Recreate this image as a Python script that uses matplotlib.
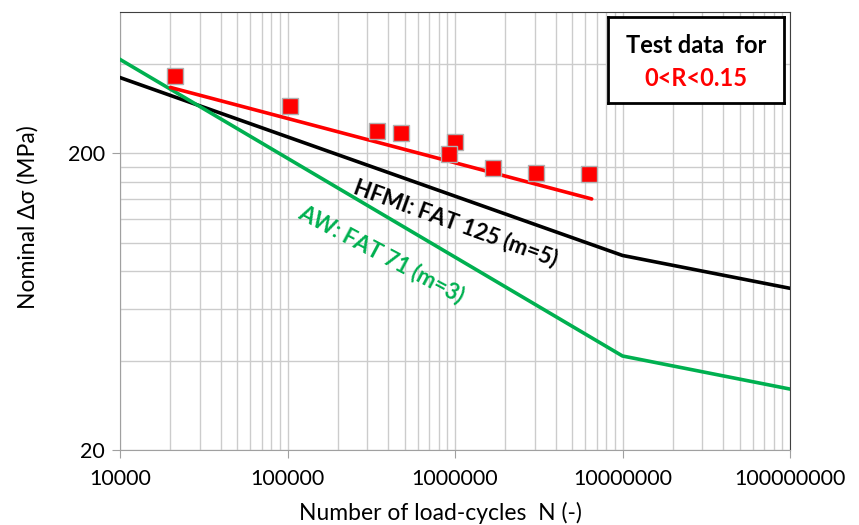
import matplotlib.pyplot as plt
from matplotlib.ticker import FixedLocator, NullFormatter, FuncFormatter

plt.rcParams['font.family'] = ['Lato', 'DejaVu Sans']

# S-N curves (N, nominal stress range)
hfmi_n = [1e4, 1e7, 1e8]
hfmi_s = [360.6, 90.6, 70.2]
aw_n = [1e4, 1e7, 1e8]
aw_s = [415.2, 41.5, 32.1]

# fitted line through test data
fit_n = [2.0e4, 6.55e6]
fit_s = [334, 140.5]

# test data 0<R<0.15
test_n = [2.13e4, 1.035e5, 3.42e5, 4.74e5, 1.0e6, 9.25e5, 1.68e6, 3.05e6, 6.34e6]
test_s = [365, 289, 239, 234, 218, 199.5, 178, 172, 171]

fig = plt.figure(figsize=(8.59, 5.25), dpi=100)
ax = fig.add_axes([120 / 859, 1 - 450 / 525, 670 / 859, 438 / 525])
ax.set_xscale('log')
ax.set_yscale('log')
ax.set_xlim(1e4, 1e8)
ax.set_ylim(20, 600)

# grid like excel: minor lines at k*base for each decade
xminor = [k * 10 ** e for e in range(4, 8) for k in range(2, 10)]
yminor = [k * 20 * 10 ** e for e in range(0, 2) for k in range(2, 10) if k * 20 * 10 ** e < 600]
ax.xaxis.set_major_locator(FixedLocator([1e4, 1e5, 1e6, 1e7, 1e8]))
ax.yaxis.set_major_locator(FixedLocator([20, 200]))
ax.xaxis.set_minor_locator(FixedLocator(xminor))
ax.yaxis.set_minor_locator(FixedLocator(yminor))
ax.xaxis.set_minor_formatter(NullFormatter())
ax.yaxis.set_minor_formatter(NullFormatter())
ax.xaxis.set_major_formatter(FuncFormatter(lambda v, p: '%d' % round(v)))
ax.yaxis.set_major_formatter(FuncFormatter(lambda v, p: '%d' % round(v)))
ax.grid(True, which='both', color='#cccccc', lw=1.0, zorder=0)
ax.tick_params(which='minor', length=0)
ax.tick_params(which='major', length=6, color='#a0a0a0', labelsize=15.5)
ax.tick_params(axis='x', pad=8)
ax.tick_params(axis='y', pad=5)
ax.set_axisbelow(True)

for s in ['left', 'bottom']:
    ax.spines[s].set_color('#a0a0a0')
for s in ['top', 'right']:
    ax.spines[s].set_color('#404040')

ax.plot(hfmi_n, hfmi_s, color='black', lw=2.6, zorder=3)
ax.plot(aw_n, aw_s, color='#00b050', lw=2.6, zorder=3)
ax.plot(fit_n, fit_s, color='#ff0000', lw=2.6, zorder=3, solid_capstyle='round')
ax.plot(test_n, test_s, ls='none', marker='s', ms=11, mfc='#ff0000',
        mec='#b0b0b0', mew=1.0, zorder=4)

ax.text(1.01e6, 117, 'HFMI: FAT 125 (m=5)', rotation=-20, fontsize=16,
        fontweight='bold', color='black', ha='center', va='center', zorder=5)
ax.text(3.66e5, 91.7, 'AW: FAT 71 (m=3)', rotation=-28, fontsize=16,
        fontweight='bold', color='#00b050', ha='center', va='center', zorder=5)

box_ax = fig.add_axes([608 / 859, 1 - 103 / 525, 176 / 859, 86 / 525])
box_ax.set_xticks([])
box_ax.set_yticks([])
for s in box_ax.spines.values():
    s.set_linewidth(2)
    s.set_color('black')
box_ax.text(0.5, 0.67, 'Test data  for', fontsize=17, fontweight='bold',
            ha='center', va='center', transform=box_ax.transAxes)
box_ax.text(0.5, 0.29, '0<R<0.15', fontsize=17, fontweight='bold', color='#ff0000',
            ha='center', va='center', transform=box_ax.transAxes)

ax.set_xlabel('Number of load-cycles  N (-)', fontsize=16.5)
ax.set_ylabel('Nominal \u0394\u03c3 (MPa)', fontsize=16.5)
ax.xaxis.set_label_coords(0.478, -0.119)
ax.yaxis.set_label_coords(-0.122, 0.531)

plt.savefig('out.png', dpi=100)
